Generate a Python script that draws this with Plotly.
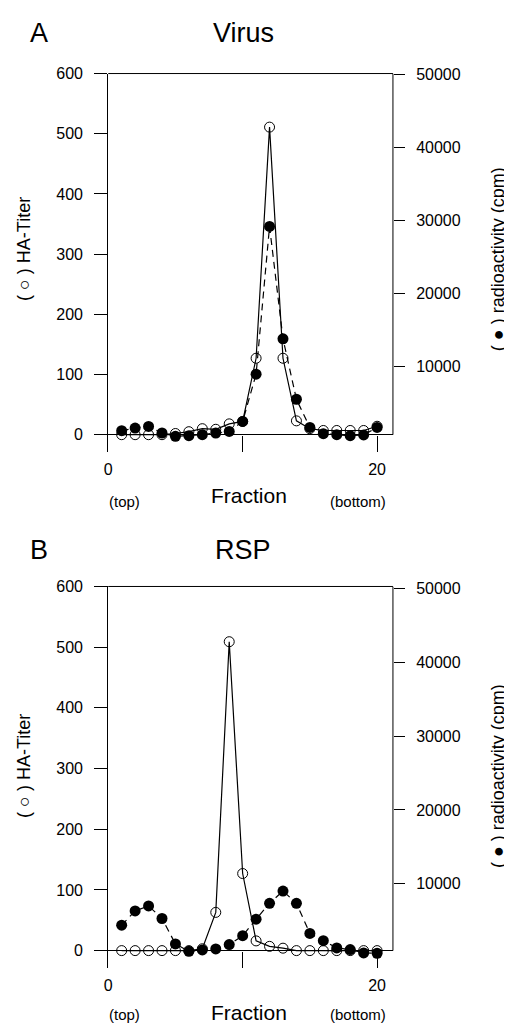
import plotly.graph_objects as go

# ---------------- data ----------------
fractions = list(range(1, 21))

virus_ha_titer = [0, 0, 0, 0, 2, 5, 10, 9, 18, 22, 127, 511, 127, 23, 10, 7, 7, 7, 7, 14]
virus_cpm = [1220, 1590, 1810, 910, 450, 540, 680, 910, 1130, 2490,
             8970, 29200, 13810, 5530, 1670, 820, 680, 540, 640, 1670]

rsp_ha_titer = [0, 0, 0, 0, 0, 0, 3, 63, 509, 127, 16, 7, 4, 0, 0, 0, 0, 0, 0, 0]
rsp_cpm = [4390, 6320, 6990, 5290, 1840, 850, 1030, 1170, 1750, 2960,
           5200, 7350, 9010, 7350, 3270, 2290, 1300, 1080, 630, 580]

left_ticks = [0, 100, 200, 300, 400, 500, 600]
right_ticks = [10000, 20000, 30000, 40000, 50000]
right_ticktext = ["10000", "20000", "30000", "40000", "50000"]
x_ticks = [0, 10, 20]
x_ticktext = ["0", "", "20"]

# ---------------- layout geometry ----------------
# the page body has an 8px margin, so the figure is placed at (8, 8)
OFF = 8
W, H = 512 - OFF, 1025 - OFF
FONT = "Liberation Sans, Arial, sans-serif"


def px_x(x):
    return (x - OFF) / W


def px_y(y):
    return 1 - (y - OFF) / H


xdom = [px_x(105), px_x(392)]
domA = [px_y(447), px_y(66)]
domB = [px_y(968), px_y(583)]

fig = go.Figure()

panels = [
    dict(ha=virus_ha_titer, cpm=virus_cpm, x="x", yl="y", yr="y2"),
    dict(ha=rsp_ha_titer, cpm=rsp_cpm, x="x2", yl="y3", yr="y4"),
]

for p in panels:
    fig.add_trace(go.Scatter(
        x=fractions, y=p["ha"], xaxis=p["x"], yaxis=p["yl"],
        mode="lines+markers",
        line=dict(color="black", width=1.2),
        marker=dict(symbol="circle-open", size=10, color="black", line=dict(width=1)),
        showlegend=False, cliponaxis=False,
    ))
    fig.add_trace(go.Scatter(
        x=fractions, y=p["cpm"], xaxis=p["x"], yaxis=p["yr"],
        mode="lines+markers",
        line=dict(color="black", width=1.2, dash="7px,5px"),
        marker=dict(symbol="circle", size=11, color="black"),
        showlegend=False, cliponaxis=False,
    ))

tickfont = dict(family=FONT, size=16, color="black")

xcommon = dict(range=[0, 21.18], showline=False, showgrid=False, zeroline=False,
               ticks="inside", ticklen=16, tickwidth=1, tickcolor="black",
               tickvals=x_ticks, ticktext=x_ticktext, tickfont=tickfont,
               ticklabelstandoff=6, domain=xdom)
ylcommon = dict(showline=True, linecolor="black", linewidth=1, showgrid=False,
                zeroline=True, zerolinecolor="black", zerolinewidth=1,
                ticks="outside", ticklen=13, tickwidth=1, tickcolor="black",
                tickvals=left_ticks, tickfont=tickfont, ticklabelstandoff=8)
yrcommon = dict(showline=False, showgrid=False, zeroline=False, side="right",
                ticks="outside", ticklen=11, tickwidth=1, tickcolor="black",
                tickvals=right_ticks, ticktext=right_ticktext,
                tickfont=tickfont, ticklabelstandoff=8)

fig.update_layout(
    width=W, height=H,
    margin=dict(l=0, r=0, t=0, b=0),
    paper_bgcolor="white", plot_bgcolor="white",
    font=dict(family=FONT, color="black"),
    xaxis=dict(**xcommon, anchor="y"),
    xaxis2=dict(**xcommon, anchor="y3"),
    yaxis=dict(**ylcommon, range=[-28, 600], domain=domA, anchor="x"),
    yaxis2=dict(**yrcommon, range=[-1630, 50136], domain=domA, anchor="x", overlaying="y"),
    yaxis3=dict(**ylcommon, range=[-29.4, 600], domain=domB, anchor="x2"),
    yaxis4=dict(**yrcommon, range=[-1478, 50269], domain=domB, anchor="x2", overlaying="y3"),
)

# frame lines: top line and right line (from 0 to top)
shapes = []
for xr, yr in [("x", "y"), ("x2", "y3")]:
    shapes.append(dict(type="line", xref=f"{xr} domain", yref=f"{yr} domain",
                       x0=0, x1=1, y0=1, y1=1, line=dict(color="black", width=1)))
    shapes.append(dict(type="line", xref=f"{xr} domain", yref=yr,
                       x0=1, x1=1, y0=0, y1=600, line=dict(color="black", width=1)))
fig.update_layout(shapes=shapes)


def ann(text, x, y, size, angle=0):
    return dict(text=text, x=px_x(x), y=px_y(y), xref="paper", yref="paper",
                showarrow=False, xanchor="center", yanchor="middle",
                textangle=angle, font=dict(family=FONT, size=size, color="black"))


annotations = []
for dy, letter, title, sub_y in [(0, "A", "Virus", 497), (521, "B", "RSP", 1014)]:
    annotations.append(ann(letter, 35, 25 + dy, 27))
    annotations.append(ann(title, 241, 25 + dy, 27))
    annotations.append(ann("(top)", 121, sub_y, 15))
    annotations.append(ann("Fraction", 247, 491 + dy, 21))
    annotations.append(ann("(bottom)", 357, sub_y, 15))
    annotations.append(ann("( \u25CB ) HA-Titer", 20, 243 + dy, 18, -90))
    annotations.append(ann("( \u25CF ) radioactivity (cpm)", 498, 253 + dy, 18, -90))
fig.update_layout(annotations=annotations)

fig.write_html("out.html")
